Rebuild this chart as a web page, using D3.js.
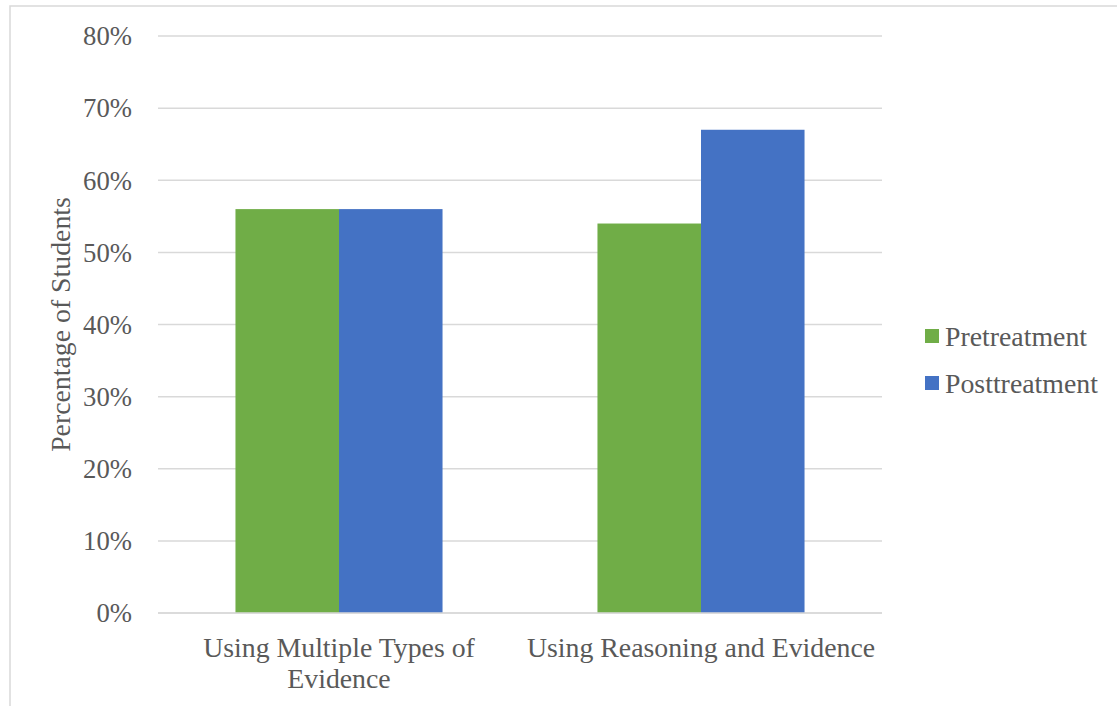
<!DOCTYPE html>
<html><head><meta charset="utf-8">
<script src="https://cdn.jsdelivr.net/npm/d3@7"></script>
<style>
html,body{margin:0;padding:0;background:#fff;}
svg{display:block;}
</style></head>
<body><svg id="c" width="1117" height="706"></svg>
<script>
const categories = [["Using Multiple Types of","Evidence"],["Using Reasoning and Evidence"]];
const categoryKeys = ["Using Multiple Types of Evidence","Using Reasoning and Evidence"];
const seriesNames = ["Pretreatment","Posttreatment"];
const pretreatment = [0.56, 0.54];
const posttreatment = [0.56, 0.67];
const yTicks = [0,0.1,0.2,0.3,0.4,0.5,0.6,0.7,0.8];
const colors = ["#70ad47","#4472c4"];

(function(){
const svg = d3.select("#c")
  .style("font-family","'Liberation Serif', Tinos, 'Times New Roman', Times, 'DejaVu Serif', serif");
const fs = 27.8;
const tfs = 26.7;
const tc = "#595959";
const pl = 158, pr = 882, pt = 36, pb = 613;

// outer frame
svg.append("rect").attr("x",10).attr("y",6).attr("width",1200).attr("height",800)
  .attr("fill","none").attr("stroke","#d9d9d9").attr("stroke-width",1.5);

const x0 = d3.scaleBand().domain(categoryKeys).range([pl,pr]).paddingInner(0.428).paddingOuter(0.214);
const x1 = d3.scaleBand().domain(seriesNames).range([0,x0.bandwidth()]);
const y = d3.scaleLinear().domain([0,0.8]).range([pb,pt]);

// gridlines
svg.append("g").selectAll("line").data(yTicks).join("line")
  .attr("x1",pl).attr("x2",pr).attr("y1",d=>y(d)).attr("y2",d=>y(d))
  .attr("stroke","#d9d9d9").attr("stroke-width",1.5);

// y tick labels
svg.append("g").selectAll("text").data(yTicks).join("text")
  .attr("x",132).attr("y",d=>y(d)).attr("dy","0.35em").attr("text-anchor","end")
  .attr("font-size",tfs).attr("fill",tc).text(d=>d3.format(".0%")(d));

// bars
const data = categoryKeys.map((k,i)=>({k, vals:[pretreatment[i],posttreatment[i]]}));
const g = svg.append("g").selectAll("g").data(data).join("g")
  .attr("transform",d=>`translate(${x0(d.k)},0)`);
g.selectAll("rect").data(d=>d.vals.map((v,j)=>({v,s:seriesNames[j],c:colors[j]}))).join("rect")
  .attr("x",d=>x1(d.s)).attr("width",x1.bandwidth())
  .attr("y",d=>y(d.v)).attr("height",d=>y(0)-y(d.v)).attr("fill",d=>d.c);

// baseline on top
svg.append("line").attr("x1",pl).attr("x2",pr).attr("y1",y(0)).attr("y2",y(0))
  .attr("stroke","#d9d9d9").attr("stroke-width",1.5);

// category labels
categoryKeys.forEach((k,i)=>{
  const cx = x0(k)+x0.bandwidth()/2;
  const t = svg.append("text").attr("text-anchor","middle").attr("font-size",fs).attr("fill",tc);
  categories[i].forEach((line,j)=>{
    t.append("tspan").attr("x",cx).attr("y",657+j*31).text(line);
  });
});

// y-axis title
svg.append("text").attr("transform",`translate(70,${(pt+pb)/2}) rotate(-90)`)
  .attr("text-anchor","middle").attr("font-size",fs).attr("fill",tc).text("Percentage of Students");

// legend
const leg = svg.append("g").selectAll("g").data(seriesNames).join("g")
  .attr("transform",(d,i)=>`translate(925,${329+i*47})`);
leg.append("rect").attr("width",14).attr("height",14).attr("fill",(d,i)=>colors[i]);
leg.append("text").attr("x",20).attr("y",7).attr("dy","0.35em").attr("font-size",fs).attr("fill",tc).text(d=>d);
})();
</script></body></html>
